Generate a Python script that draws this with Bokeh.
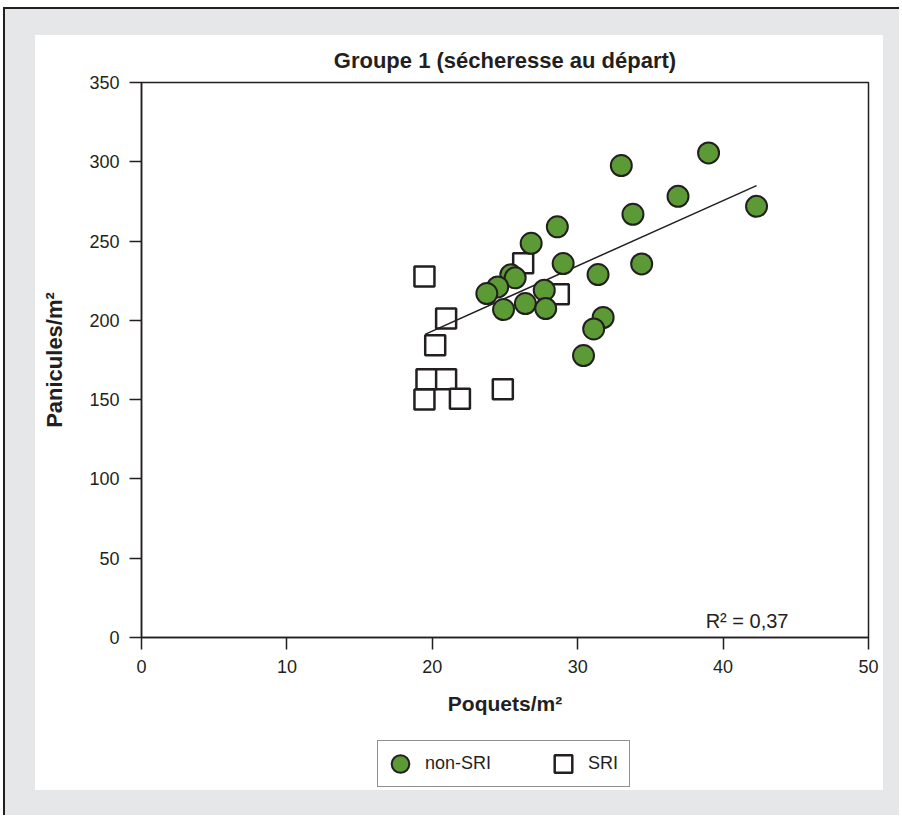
from bokeh.plotting import figure
from bokeh.models import Legend, LegendItem, Label, FixedTicker
from bokeh.layouts import column
from bokeh.embed import file_html
from bokeh.resources import INLINE

# ---- data ----
nonsri_x = [33.0, 39.0, 36.9, 42.3, 33.8, 28.6, 26.8, 29.0, 34.4, 31.4, 25.4, 25.7,
            24.5, 23.75, 27.7, 24.9, 26.4, 27.8, 31.75, 31.1, 30.4]
nonsri_y = [297.6, 305.6, 278.2, 271.9, 266.9, 259.0, 248.6, 235.8, 235.6, 228.9, 228.7, 226.8,
            221.1, 216.9, 219.0, 206.8, 210.6, 207.4, 201.8, 194.6, 177.8]
sri_x = [19.46, 26.25, 28.7, 20.95, 20.2, 19.6, 20.95, 19.46, 21.9, 24.85]
sri_y = [227.6, 236.0, 216.5, 201.1, 184.3, 162.9, 162.9, 150.1, 150.5, 156.6]
trend_x = [19.5, 42.3]
trend_y = [191.2, 285.0]
x_ticks = [0, 10, 20, 30, 40, 50]
y_ticks = [0, 50, 100, 150, 200, 250, 300, 350]

DARK = "#231f20"
GREEN = "#5b9a35"
FONT = "Liberation Sans"

sri_style = dict(marker="square", fill_color="white", line_color=DARK, line_width=2.5)
non_style = dict(marker="circle", fill_color=GREEN, line_color=DARK, line_width=2)

p = figure(width=848, height=694, x_range=(0, 50), y_range=(0, 350),
           output_backend="svg", toolbar_location=None,
           min_border_left=106, min_border_right=15, min_border_top=47, min_border_bottom=92,
           title="Groupe 1 (sécheresse au départ)")
p.margin = (26, 0, 0, 30)
p.styles = {"background-color": "white"}
p.background_fill_color = "white"
p.border_fill_color = "white"
p.outline_line_color = DARK
p.outline_line_width = 1.5
p.xgrid.visible = False
p.ygrid.visible = False

p.title.align = "center"
p.title.text_font = FONT
p.title.text_font_size = "22px"
p.title.text_font_style = "bold"
p.title.text_color = DARK
p.title.standoff = 20

p.xaxis.ticker = FixedTicker(ticks=x_ticks)
p.yaxis.ticker = FixedTicker(ticks=y_ticks)
p.xaxis.axis_label = "Poquets/m²"
p.yaxis.axis_label = "Panicules/m²"
for ax in (p.xaxis[0], p.yaxis[0]):
    ax.axis_line_color = DARK
    ax.axis_line_width = 1.5
    ax.major_tick_line_color = DARK
    ax.major_tick_line_width = 1.5
    ax.major_tick_out = 12
    ax.major_tick_in = 0
    ax.minor_tick_line_color = None
    ax.major_label_text_font = FONT
    ax.major_label_text_font_size = "18px"
    ax.major_label_text_color = DARK
    ax.major_label_standoff = 10
    ax.axis_label_text_font = FONT
    ax.axis_label_text_font_size = "21px"
    ax.axis_label_text_font_style = "bold"
    ax.axis_label_text_color = DARK
p.yaxis.axis_label_text_font_size = "22px"
p.xaxis.axis_label_standoff = 16
p.yaxis.axis_label_standoff = 19

p.scatter(sri_x, sri_y, size=20, **sri_style)
p.line(trend_x, trend_y, line_color=DARK, line_width=1.5)
p.scatter(nonsri_x, nonsri_y, size=21, **non_style)

p.add_layout(Label(x=38.8, y=10.5, text="R² = 0,37", text_font=FONT, text_font_size="20px",
                   text_color=DARK, text_baseline="alphabetic"))

# legend strip under the chart (its renderers fall outside this strip's ranges)
pl = figure(width=848, height=61, x_range=(0, 1), y_range=(0, 1),
            x_axis_type=None, y_axis_type=None,
            output_backend="svg", toolbar_location=None,
            min_border_left=0, min_border_right=0, min_border_top=0, min_border_bottom=0)
pl.margin = (0, 0, 0, 30)
pl.styles = {"background-color": "white"}
pl.outline_line_color = None
pl.xgrid.visible = False
pl.ygrid.visible = False
pl.background_fill_color = "white"
pl.border_fill_color = "white"
r_non = pl.scatter(nonsri_x, nonsri_y, size=21, **non_style)
r_sri = pl.scatter(sri_x, sri_y, size=20, **sri_style)

legend = Legend(items=[LegendItem(label="non-SRI", renderers=[r_non]),
                       LegendItem(label="SRI", renderers=[r_sri])],
                orientation="horizontal", location=(236, 3), padding=0, spacing=50,
                glyph_width=44, glyph_height=45, label_standoff=3, label_width=41,
                border_line_color=DARK, border_line_width=1.5, background_fill_color="white",
                background_fill_alpha=1, label_text_font=FONT, label_text_font_size="18px",
                label_text_color=DARK, margin=0)
pl.add_layout(legend)

layout = column(p, pl, width=896, height=808, margin=(7, 0, 0, 3), spacing=0,
                styles={"background-color": "#e6e7e8",
                        "border-left": "2px solid #231f20",
                        "border-top": "2px solid #231f20"})

open("out.html", "w").write(file_html(layout, INLINE))
